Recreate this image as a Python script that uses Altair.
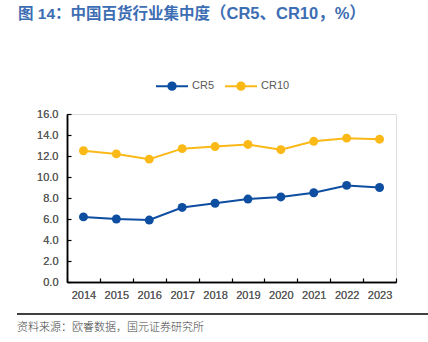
import altair as alt
import pandas as pd

years = ["2014", "2015", "2016", "2017", "2018", "2019", "2020", "2021", "2022", "2023"]
cr5 = [6.2, 6.0, 5.9, 7.1, 7.5, 7.9, 8.1, 8.5, 9.2, 9.0]
cr10 = [12.5, 12.2, 11.7, 12.7, 12.9, 13.1, 12.6, 13.4, 13.7, 13.6]
series = ["CR5", "CR10"]
colors = ["#0d4ea1", "#fbb918"]
y_ticks = [0, 2, 4, 6, 8, 10, 12, 14, 16]

title_main = "图 14：中国百货行业集中度"
title_tail = "（CR5、CR10，%）"
source_text = "资料来源：欧睿数据，国元证券研究所"

rows = []
for s, vals in zip(series, [cr5, cr10]):
    for yr, v in zip(years, vals):
        rows.append({"year": yr, "value": v, "series": s})
df = pd.DataFrame(rows)

W, H = 329, 168
LEFT, TOP = 67, 114
LBL = dict(labelFontSize=11, labelColor="#595959", labelFont="Liberation Sans")

xscale = alt.Scale(type="band", paddingInner=0, paddingOuter=0)
yscale = alt.Scale(domain=[0, 16])

xenc = alt.X("year:O", bandPosition=0.5, scale=xscale,
             axis=alt.Axis(title=None, orient="bottom", tickBand="extent", labelAngle=0,
                           tickSize=0, labelPadding=7, domainColor="#000000",
                           domainWidth=1.5, **LBL))
yenc = alt.Y("value:Q", scale=yscale,
             axis=alt.Axis(title=None, orient="left", values=y_ticks, format=".1f",
                           grid=False, tickSize=0, labelPadding=9,
                           domainColor="#000000", domainWidth=1.5, **LBL))

# inward-pointing ticks: mirrored axes moved onto the plot edges
xenc_t = alt.X("year:O", bandPosition=0.5, scale=xscale,
               axis=alt.Axis(title=None, orient="top", offset=-H, tickBand="extent",
                             labels=False, domain=False, tickSize=4, tickColor="#000000",
                             tickWidth=1.2))
yenc_t = alt.Y("value:Q", scale=yscale,
               axis=alt.Axis(title=None, orient="right", offset=-W, values=y_ticks,
                             labels=False, domain=False, grid=False, tickSize=4,
                             tickColor="#000000", tickWidth=1.2))

sym_path = "M-1,0H1M-0.23,0A0.23,0.23,0,1,1,0.23,0A0.23,0.23,0,1,1,-0.23,0Z"

color = alt.Color("series:N", sort=series,
                  scale=alt.Scale(domain=series, range=colors),
                  legend=alt.Legend(title=None, orient="none", direction="horizontal",
                                    legendX=155 - LEFT, legendY=85 - 16 - TOP,
                                    symbolType=sym_path, symbolSize=1024,
                                    symbolStrokeWidth=2, labelFontSize=11,
                                    labelColor="#595959", labelFont="Liberation Sans",
                                    columnPadding=6, labelOffset=3))

base = alt.Chart(df)
lines = base.mark_line(strokeWidth=2).encode(x=xenc, y=yenc, color=color)
points = base.mark_circle(size=80, opacity=1).encode(x=xenc, y=yenc, color=color)
ticks = base.mark_point(opacity=0).encode(x=xenc_t, y=yenc_t)

TFONT = "Liberation Sans, Noto Sans CJK SC"
TCOLOR = "#3d6db3"
t1 = pd.DataFrame({"t": [title_main]})
title1 = alt.Chart(t1).mark_text(align="left", baseline="middle", fontSize=15.5,
                                 fontWeight="bold", color=TCOLOR, font=TFONT).encode(
    x=alt.value(18 - LEFT), y=alt.value(14 - TOP), text="t:N")
t2 = pd.DataFrame({"t": [title_tail]})
title2 = alt.Chart(t2).mark_text(align="left", baseline="middle", fontSize=16.5,
                                 fontWeight="bold", color=TCOLOR, font=TFONT).encode(
    x=alt.value(210 - LEFT), y=alt.value(14 - TOP), text="t:N")

src = pd.DataFrame({"t": [source_text]})
source = alt.Chart(src).mark_text(align="left", baseline="middle", fontSize=11,
                                  color="#444444", font="Noto Sans CJK SC",
                                  fontWeight=300).encode(
    x=alt.value(17 - LEFT), y=alt.value(328 - TOP), text="t:N")

rule = alt.Chart(t1).mark_rule(color="#000000", strokeWidth=1.5).encode(
    x=alt.value(17 - LEFT), x2=alt.value(428 - LEFT), y=alt.value(314 - TOP))

chart = alt.layer(lines, points, ticks, title1, title2, source, rule).resolve_axis(
    x="independent", y="independent"
).properties(
    width=W, height=H,
    autosize=alt.AutoSizeParams(type="none"),
    padding={"left": LEFT, "top": TOP, "right": 428 - LEFT - W, "bottom": 342 - TOP - H},
).configure_view(stroke=None).configure(background="white")

chart.save("out.html", embed_options={"renderer": "svg", "actions": False})
